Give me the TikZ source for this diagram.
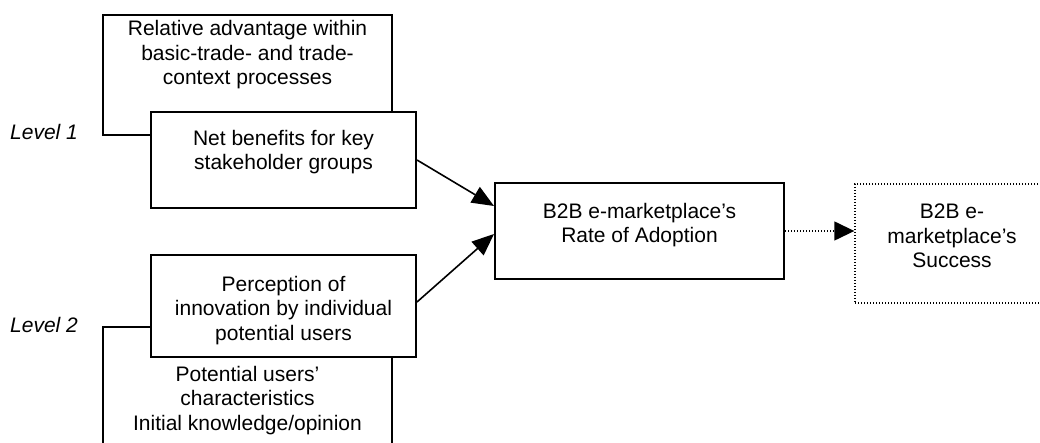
\documentclass[tikz,border=0pt]{standalone}
\usepackage{fontspec}
\setmainfont{Liberation Sans}
\usetikzlibrary{arrows.meta}
\tikzset{
  box/.style={draw, line width=2pt, fill=white, inner sep=0pt, rectangle},
  dotbox/.style={draw, line width=1.4pt, dash pattern=on 1.4pt off 1.6pt, inner sep=0pt, rectangle},
  % multi-line texts are placed by the baseline of their last line
  txt/.style={inner sep=0pt, align=center, anchor=base,
    font=\fontsize{21}{24.5}\selectfont},
  lvl/.style={inner sep=0pt, anchor=base west,
    font=\fontsize{21}{24.5}\selectfont\itshape},
  arr/.style={line width=1.6pt, -{Triangle[length=22pt,width=18pt]}},
  dotarr/.style={line width=1.4pt, dash pattern=on 1.4pt off 1.6pt,
    -{Triangle[length=20pt,width=19pt]}}
}
\begin{document}
\begin{tikzpicture}[x=1pt,y=-1pt]
\clip (0,0) rectangle (1040,443);
\fill[white] (0,0) rectangle (1040,443);

% level labels
\node[lvl] (L1) at (10,140) {Level 1};
\node[lvl] (L2) at (10,332) {Level 2};

% level 1 boxes
\node[box, minimum width=289pt, minimum height=120pt] (A) at (247.5,75) {};
\node[txt] (Atxt) at (247.5,85) {Relative advantage within\\basic-trade- and trade-\\context processes};
\node[box, minimum width=265pt, minimum height=96pt] (B) at (283.5,160) {};
\node[txt] (Btxt) at (283.5,170) {Net benefits for key\\stakeholder groups};

% level 2 boxes
\node[box, minimum width=289pt, minimum height=143pt] (D) at (247.5,398.5) {};
\node[txt] (Dtxt) at (247.5,430) {Potential users’\\characteristics\\Initial knowledge/opinion};
\node[box, minimum width=265pt, minimum height=102pt] (C) at (283.5,306) {};
\node[txt] (Ctxt) at (283.5,340) {Perception of\\innovation by individual\\potential users};

% adoption and success
\node[box, minimum width=289pt, minimum height=96pt] (E) at (639.5,231) {};
\node[txt] (Etxt) at (639.5,243) {B2B e-marketplace’s\\Rate of Adoption};
\node[dotbox, minimum width=194pt, minimum height=119pt] (F) at (952,243.5) {};
\node[txt] (Ftxt) at (952,268) {B2B e-\\marketplace’s\\Success};

% connectors
\draw[arr] (B.east) -- ([yshift=25pt]E.west);
\draw[arr] ([yshift=4pt]C.east) -- ([yshift=-3pt]E.west);
\draw[dotarr] (E.east) -- (E.east -| F.west);
\end{tikzpicture}
\end{document}
